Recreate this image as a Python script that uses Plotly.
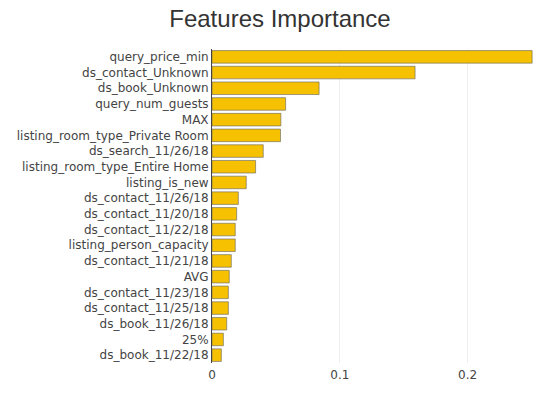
import plotly.graph_objects as go

features = [
    "query_price_min", "ds_contact_Unknown", "ds_book_Unknown", "query_num_guests",
    "MAX", "listing_room_type_Private Room", "ds_search_11/26/18",
    "listing_room_type_Entire Home", "listing_is_new", "ds_contact_11/26/18",
    "ds_contact_11/20/18", "ds_contact_11/22/18", "listing_person_capacity",
    "ds_contact_11/21/18", "AVG", "ds_contact_11/23/18", "ds_contact_11/25/18",
    "ds_book_11/26/18", "25%", "ds_book_11/22/18",
]
importance = [
    0.2505, 0.1589, 0.0838, 0.0576, 0.0539, 0.0536, 0.0401, 0.0341, 0.0268,
    0.0206, 0.0193, 0.0182, 0.0182, 0.0151, 0.0135, 0.0128, 0.0128, 0.0115,
    0.0089, 0.0073,
]
x_ticks = [0, 0.1, 0.2]

fig = go.Figure(go.Bar(
    x=importance[::-1], y=features[::-1], orientation="h",
    marker=dict(color="#F5C100", line=dict(color="rgba(100,100,100,0.6)", width=1)),
))
fig.update_layout(
    width=560, height=394,
    title=dict(text="Features Importance", x=0.4857, xanchor="center",
               yref="container", y=0.972, yanchor="middle",
               font=dict(family="Liberation Sans, Arial", size=24, color="#333")),
    margin=dict(l=204, r=19, t=41, b=39),
    plot_bgcolor="white", paper_bgcolor="white",
    font=dict(family="DejaVu Sans", size=12, color="#444"),
    bargap=0.2,
    xaxis=dict(range=[0, 0.2637], tickvals=x_ticks, ticktext=["0", "0.1", "0.2"],
               showgrid=True, gridcolor="#eee", zeroline=False, automargin=False,
               ticks="outside", ticklen=1, tickcolor="rgba(0,0,0,0)"),
    yaxis=dict(showline=True, linecolor="#444", linewidth=1, ticks="", automargin=False),
    showlegend=False,
)
fig.write_html("out.html")
